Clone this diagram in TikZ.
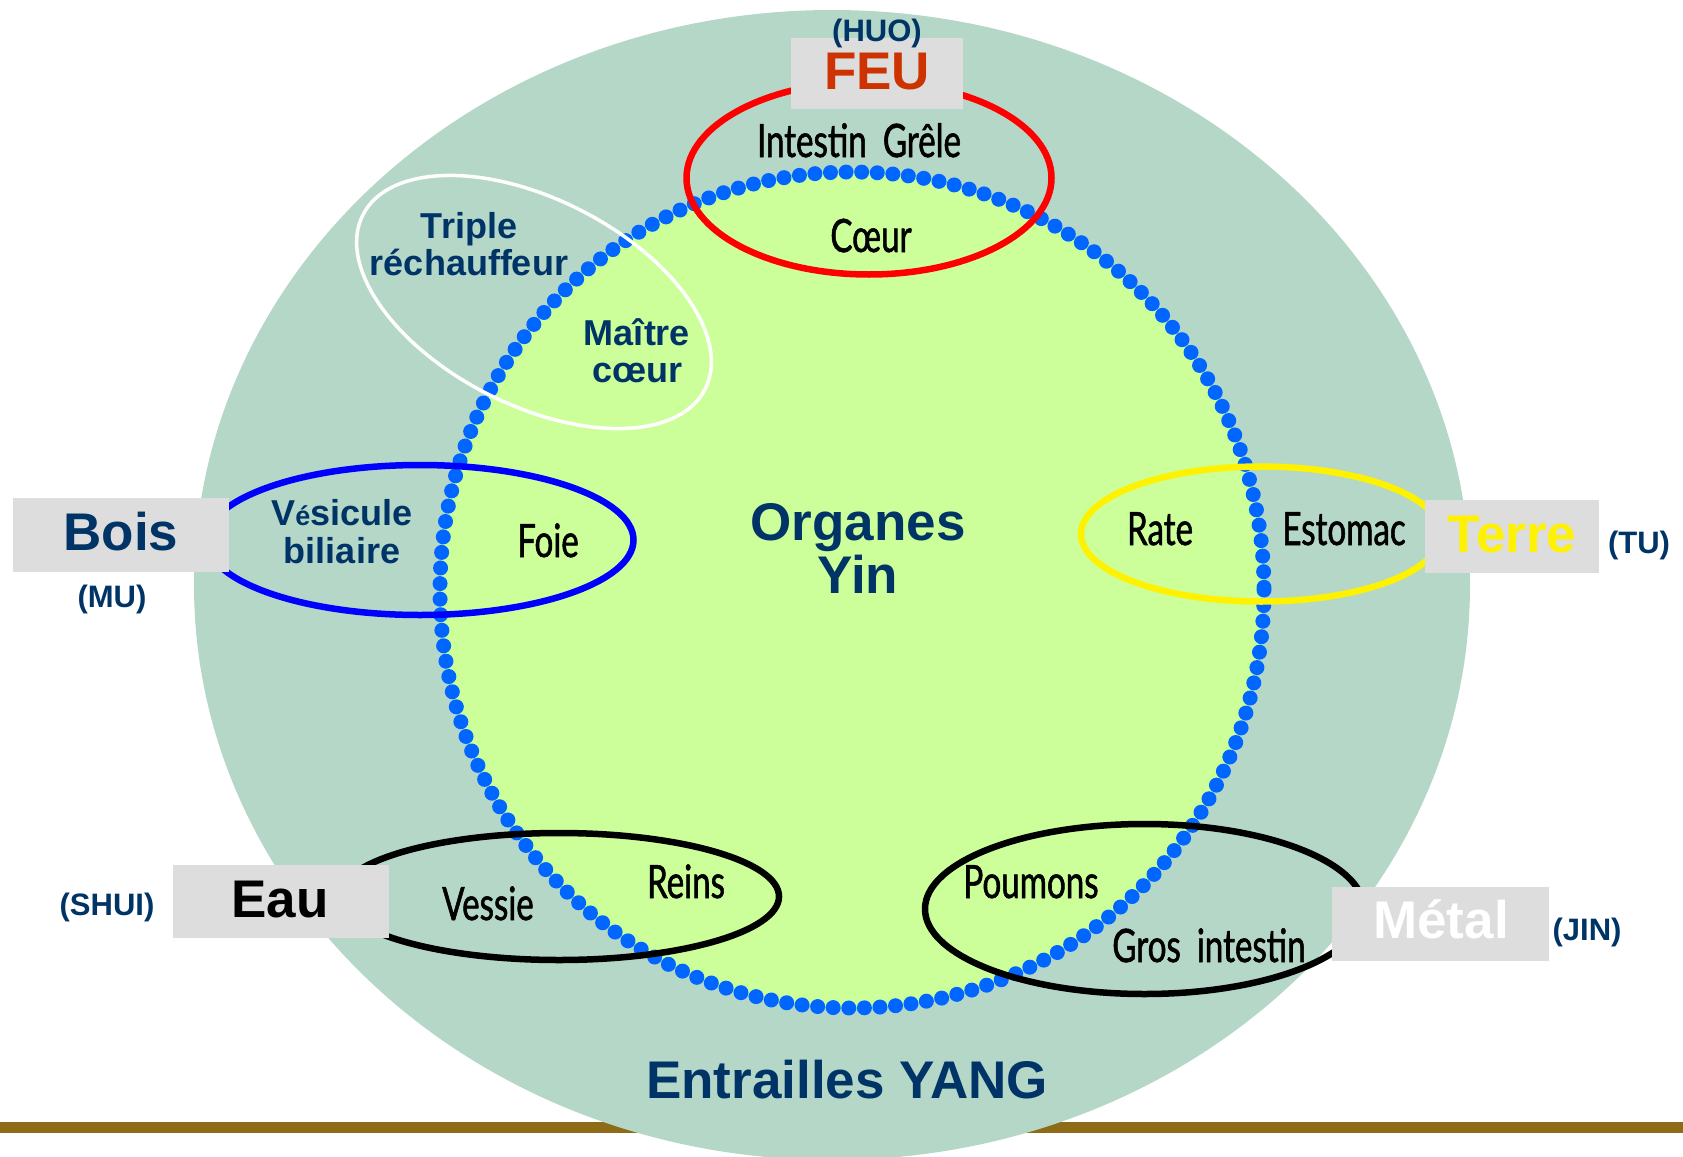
\documentclass[tikz,border=0pt]{standalone}
\usepackage{fontspec}
\setmainfont{Liberation Sans}
\newfontfamily\cond[FakeStretch=0.72, FakeBold=1.2]{Lato}
\definecolor{outerfill}{HTML}{B4D7C8}
\definecolor{innerfill}{HTML}{CCFF99}
\definecolor{dotblue}{HTML}{0066FF}
\definecolor{dblue}{HTML}{003366}
\definecolor{feuc}{HTML}{CC3300}
\definecolor{boxgrey}{HTML}{DDDDDD}
\definecolor{brownline}{HTML}{8E6B16}
\begin{document}
\begin{tikzpicture}[x=1pt,y=-1pt,
  ring/.style={line width=6.5},
  greybox/.style={fill=boxgrey, draw=none, inner sep=0pt},
  blab/.style={inner sep=0pt, anchor=base, text=dblue, font=\bfseries\fontsize{36}{40}\selectfont},
  big/.style={inner sep=0pt, anchor=base, font=\bfseries\fontsize{53}{58}\selectfont},
  paren/.style={inner sep=0pt, anchor=base, text=dblue, font=\bfseries\fontsize{31}{34}\selectfont},
  organ/.style={inner sep=0pt, anchor=base, text=black, font=\cond\fontsize{46}{50}\selectfont}]
\useasboundingbox (0,0) rectangle (1683,1156);
\clip (0,0) rectangle (1683,1156);
% bottom rule
\fill[brownline] (0,1122) rectangle (1683,1133);
% outer ellipse (Yang)
\fill[outerfill] (832,585) ellipse [x radius=638, y radius=575];
% inner circle (Yin)
\fill[innerfill] (852,590) ellipse [x radius=412, y radius=418];
\draw[dotblue, line width=15, line cap=round, dash pattern=on 0pt off 15.6pt] (852,590) ellipse [x radius=412, y radius=418];
% element ellipses
\draw[ring, red] (869,178) ellipse [x radius=182.5, y radius=96.5];
\draw[white, line width=3.5, rotate around={-27:(534,302)}] (534,302) ellipse [x radius=192, y radius=103];
\draw[ring, blue] (420,540) ellipse [x radius=213.5, y radius=75];
\draw[ring, yellow] (1261,534) ellipse [x radius=180, y radius=67.5];
\draw[ring, black] (559,896.5) ellipse [x radius=220, y radius=63.5];
\draw[ring, black] (1144.5,909) ellipse [x radius=219.5, y radius=85];
% boxes
\node[greybox, minimum width=172, minimum height=71] (feubox) at (877,73.5) {};
\node[greybox, minimum width=216, minimum height=74] (boisbox) at (121,535) {};
\node[greybox, minimum width=174, minimum height=73] (terrebox) at (1512,536.5) {};
\node[greybox, minimum width=216, minimum height=73] (eaubox) at (281,901.5) {};
\node[greybox, minimum width=217, minimum height=74] (metalbox) at (1440.5,924) {};
% element names
\node[big, text=feuc] (feu) at (877,89) {FEU};
\node[paren] (huo) at (877,42) {(HUO)};
\node[big, text=dblue] (bois) at (121,550) {Bois};
\node[paren] (mu) at (112,607) {(MU)};
\node[big, text=yellow] (terre) at (1512,552) {Terre};
\node[paren] (tu) at (1639,553) {(TU)};
\node[big, text=black] (eau) at (280,917) {Eau};
\node[paren] (shui) at (107,915) {(SHUI)};
\node[big, text=white] (metal) at (1441,938) {Métal};
\node[paren] (jin) at (1587,940) {(JIN)};
% organs
\node[organ] (intestin) at (859,157) {Intestin\, Grêle};
\node[organ] (coeur) at (871,252) {Cœur};
\node[blab] (triple) at (469,238) {Triple};
\node[blab] (rechauf) at (469,275) {réchauffeur};
\node[blab] (maitre) at (637,345) {Maître};
\node[blab] (mcoeur) at (637,382) {cœur};
\node[blab] (vesicule) at (342,525) {V{\fontsize{27}{30}\selectfont é}sicule};
\node[blab] (biliaire) at (342,563) {biliaire};
\node[organ] (foie) at (548,557) {Foie};
\node[organ] (rate) at (1160,545) {Rate};
\node[organ] (estomac) at (1344,545) {Estomac};
\node[organ] (vessie) at (488,920) {Vessie};
\node[organ] (reins) at (686,898) {Reins};
\node[organ] (poumons) at (1031,898) {Poumons};
\node[organ] (gros) at (1209,962) {Gros\, intestin};
% centre labels
\node[big, text=dblue] (organes) at (858,540) {Organes};
\node[big, text=dblue] (yin) at (858,593) {Yin};
\node[big, text=dblue] (yang) at (847,1098) {Entrailles YANG};
\end{tikzpicture}
\end{document}
